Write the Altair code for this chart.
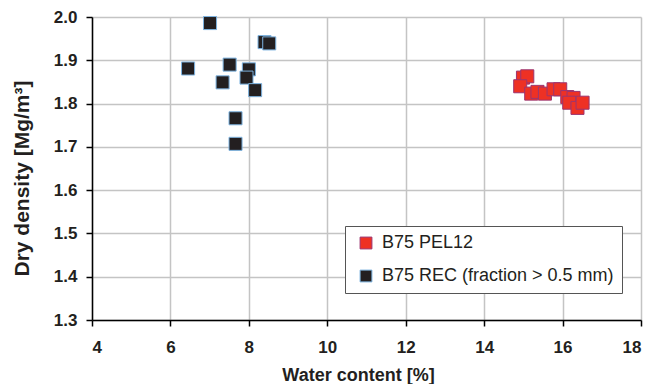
import altair as alt
import pandas as pd

# Data
rec_label = "B75 REC (fraction > 0.5 mm)"
pel_label = "B75 PEL12"

rec_x = [7.01, 8.40, 8.52, 6.45, 7.51, 8.00, 7.94, 7.33, 8.16, 7.66, 7.66]
rec_y = [1.986, 1.942, 1.939, 1.881, 1.890, 1.879, 1.860, 1.849, 1.831, 1.766, 1.707]

pel_x = [14.99, 15.10, 14.92, 15.20, 15.36, 15.55, 15.77, 15.94, 16.12, 16.28, 16.17, 16.38, 16.51]
pel_y = [1.860, 1.863, 1.840, 1.823, 1.827, 1.823, 1.833, 1.833, 1.815, 1.813, 1.802, 1.790, 1.802]

x_ticks = [4, 6, 8, 10, 12, 14, 16, 18]
y_ticks = [1.3, 1.4, 1.5, 1.6, 1.7, 1.8, 1.9, 2.0]

series = [pel_label, rec_label]
fill_colors = ["#ee3124", "#231f20"]
stroke_colors = ["#9c3570", "#7db3e0"]

df = pd.DataFrame(
    {
        "x": pel_x + rec_x,
        "y": pel_y + rec_y,
        "s": [pel_label] * len(pel_x) + [rec_label] * len(rec_x),
    }
)

FONT = "Liberation Sans"

chart = (
    alt.Chart(df)
    .mark_point(shape="square", filled=True, size=170, fillOpacity=1, strokeWidth=1, strokeOpacity=1)
    .encode(
        x=alt.X(
            "x:Q",
            scale=alt.Scale(domain=[4, 18], nice=False, zero=False),
            axis=alt.Axis(
                values=x_ticks,
                title="Water content [%]",
                titleX=266,
                titleY=55,
                titleBaseline="middle",
                labelPadding=13,
            ),
        ),
        y=alt.Y(
            "y:Q",
            scale=alt.Scale(domain=[1.3, 2.0], nice=False, zero=False),
            axis=alt.Axis(
                values=y_ticks,
                format=".1f",
                title="Dry density [Mg/m³]",
                titleX=-70,
                titleY=161,
                titleBaseline="middle",
                titleFontSize=21,
                labelPadding=9,
            ),
        ),
        fill=alt.Fill("s:N", scale=alt.Scale(domain=series, range=fill_colors), legend=alt.Legend(title=None)),
        stroke=alt.Stroke("s:N", scale=alt.Scale(domain=series, range=stroke_colors), legend=alt.Legend(title=None)),
        order=alt.Order("s:N", sort="ascending"),
    )
    .properties(
        width=549,
        height=303,
        autosize=alt.AutoSizeParams(type="none"),
        padding={"left": 84, "top": 9, "right": 2, "bottom": 64},
    )
    .configure_view(stroke=None)
    .configure_axis(
        domainColor="#000000",
        domainWidth=1.5,
        tickColor="#000000",
        tickWidth=1.5,
        tickSize=6,
        gridColor="#c4c4c4",
        gridWidth=1.5,
        labelFont=FONT,
        labelFontSize=17,
        labelFontWeight="bold",
        labelColor="#231f20",
        titleFont=FONT,
        titleFontSize=18,
        titleFontWeight="bold",
        titleColor="#231f20",
    )
    .configure_legend(
        orient="none",
        legendX=253,
        legendY=209,
        direction="vertical",
        padding=8,
        strokeColor="#555555",
        fillColor="#ffffff",
        symbolType="square",
        symbolSize=140,
        symbolStrokeWidth=1,
        symbolOffset=4,
        labelFont=FONT,
        labelFontSize=18,
        labelColor="#231f20",
        labelOffset=7,
        rowPadding=15,
        labelLimit=400,
    )
)

chart.save("out.html", embed_options={"renderer": "svg", "actions": False})
